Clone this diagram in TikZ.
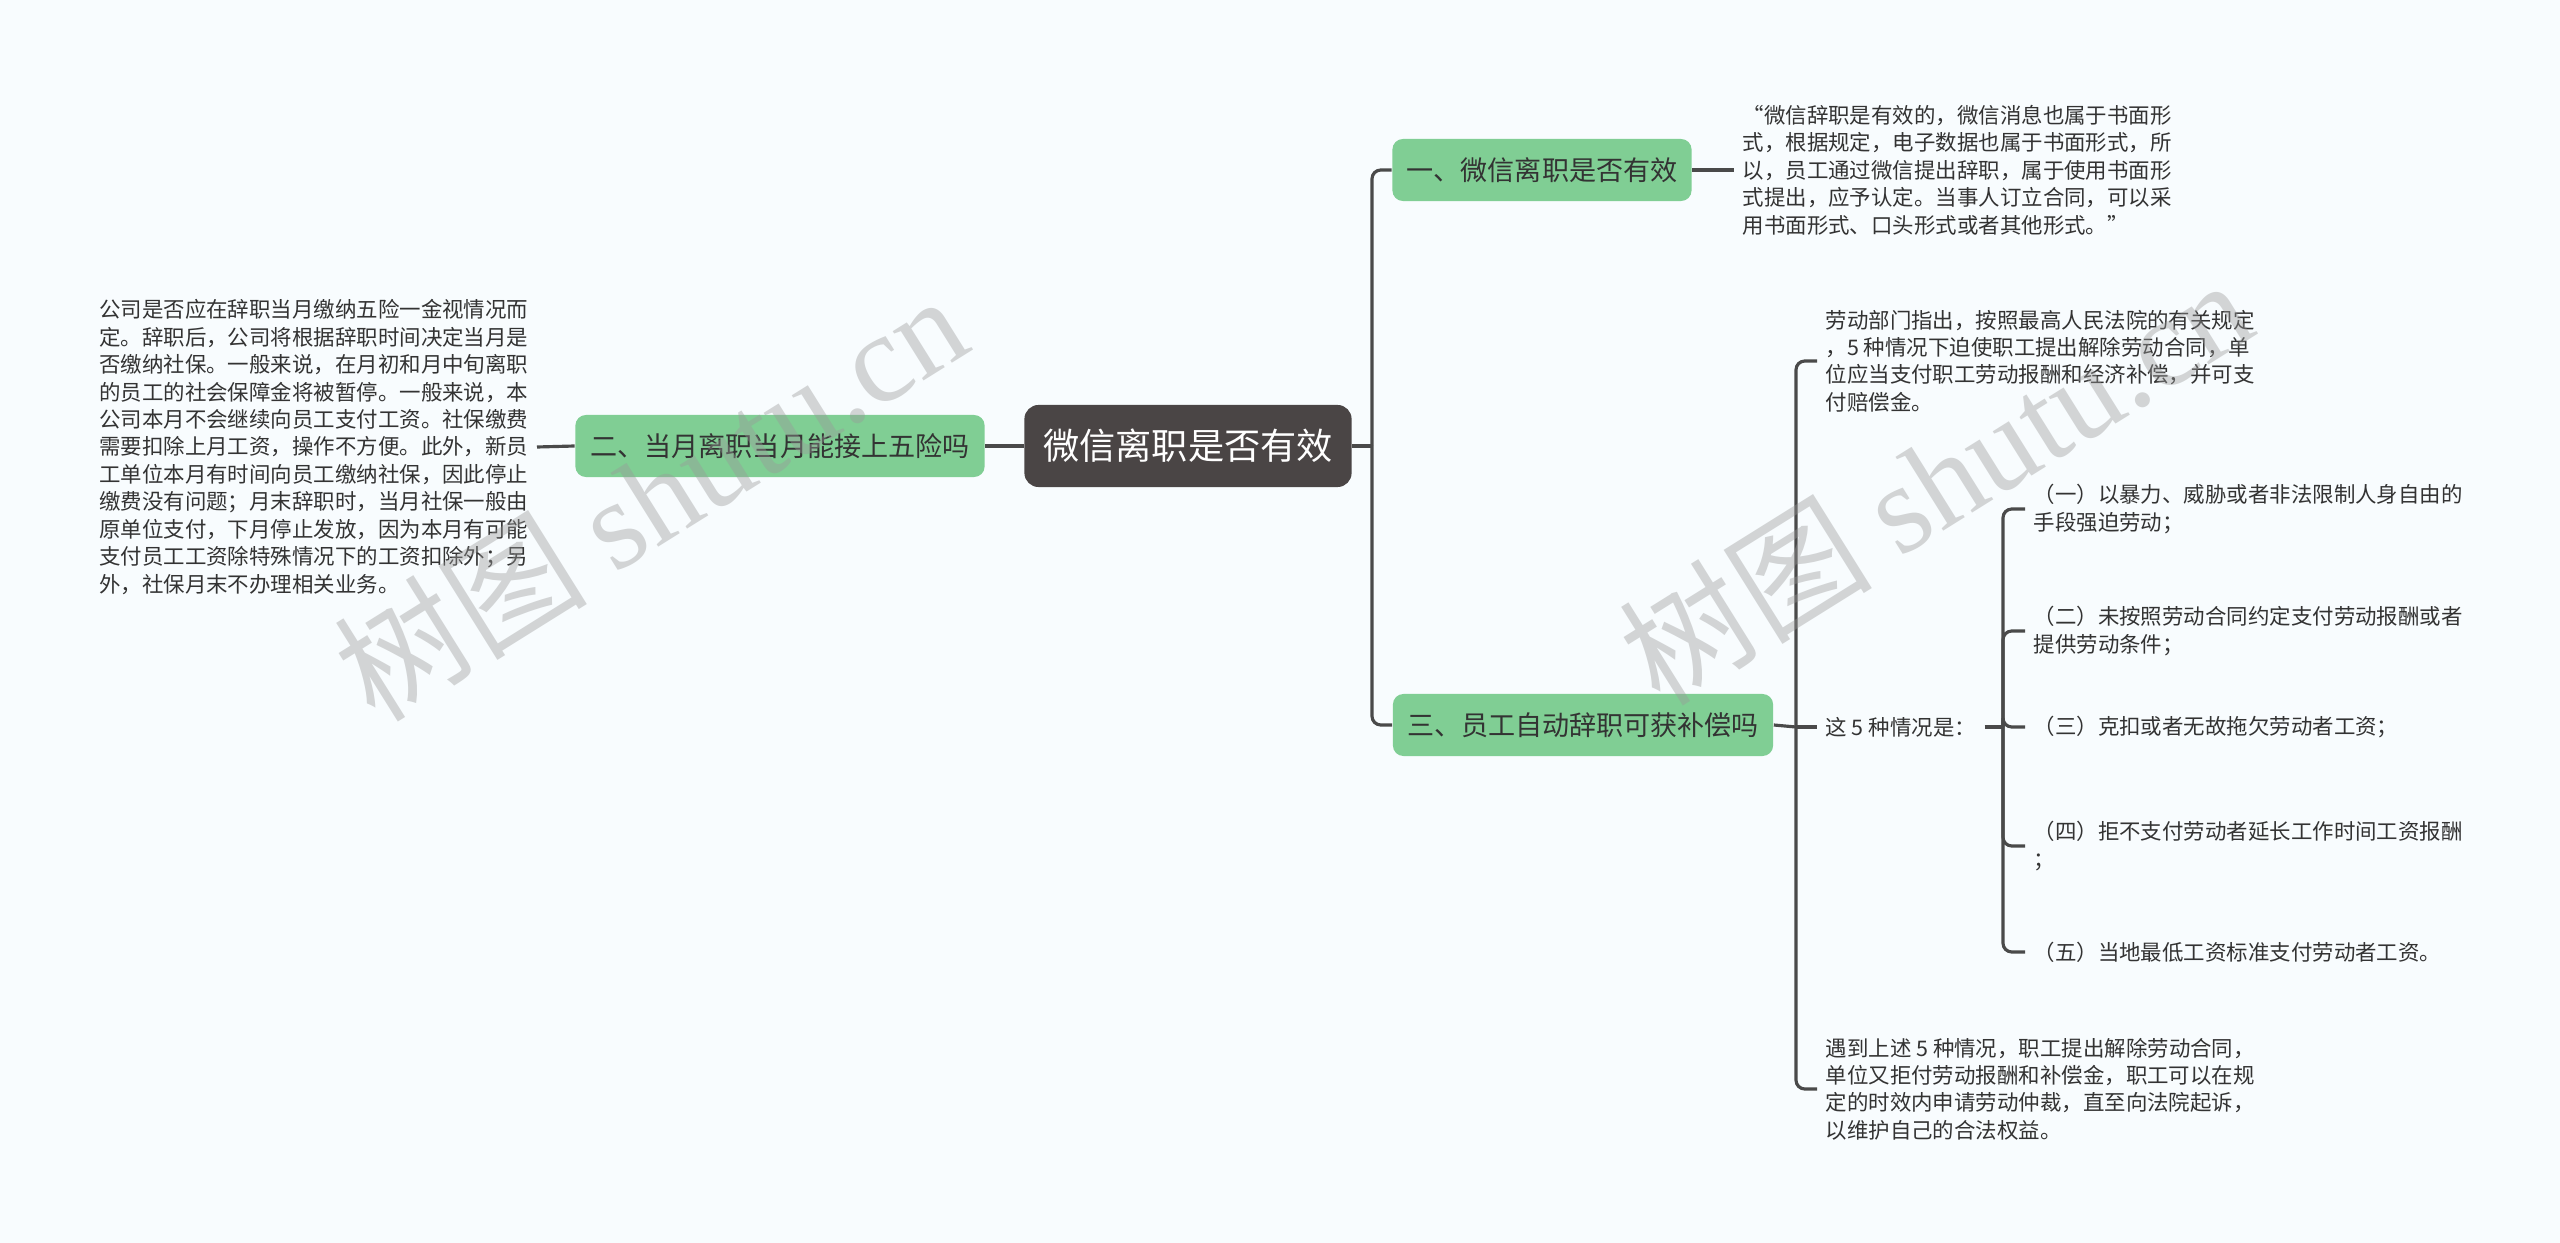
\documentclass[tikz,border=0pt]{standalone}
\usepackage{fontspec}
\setmainfont{Noto Sans CJK SC}
\newfontfamily\markserif{Liberation Serif}
\usetikzlibrary{positioning}
\definecolor{MapBack}{HTML}{F8FCFE}
\definecolor{MapDark}{HTML}{4A4545}
\definecolor{MapGreen}{HTML}{80CE94}
\definecolor{MapLine}{HTML}{4A4A4A}
\definecolor{MapText}{HTML}{333333}

\tikzset{
  topic/.style={fill=MapDark, rounded corners=4pt, minimum width=3.27cm, minimum height=0.82cm,
    inner xsep=0pt, text=white, font=\fontsize{10.3pt}{12pt}\selectfont},
  branch/.style={fill=MapGreen, rounded corners=3pt, minimum height=0.62cm, inner xsep=0pt,
    text=MapText, font=\fontsize{7.7pt}{9pt}\selectfont},
  leaf/.style={anchor=west, inner xsep=0.08cm, inner ysep=0pt, align=left, text=MapText,
    font=\fontsize{6.1pt}{7.8pt}\selectfont},
  conn/.style={draw=MapLine, line width=0.9pt, rounded corners=2.5pt},
  wmark/.style={rotate=32, text=black!40, opacity=0.4, font=\fontsize{36pt}{40pt}\selectfont}
}

\begin{document}
\begin{tikzpicture}[x=0.01cm, y=-0.01cm]
  \fill[MapBack] (0,0) rectangle (2560,1243);

  \node[topic] (root) at (1188,446) {微信离职是否有效};

  % left side
  \node[branch, minimum width=4.09cm] (q2) at (780,446) {二、当月离职当月能接上五险吗};
  \node[leaf, anchor=east] (t2) at (537,447) {公司是否应在辞职当月缴纳五险一金视情况而\\
    定。辞职后，公司将根据辞职时间决定当月是\\
    否缴纳社保。一般来说，在月初和月中旬离职\\
    的员工的社会保障金将被暂停。一般来说，本\\
    公司本月不会继续向员工支付工资。社保缴费\\
    需要扣除上月工资，操作不方便。此外，新员\\
    工单位本月有时间向员工缴纳社保，因此停止\\
    缴费没有问题；月末辞职时，当月社保一般由\\
    原单位支付，下月停止发放，因为本月有可能\\
    支付员工工资除特殊情况下的工资扣除外；另\\
    外，社保月末不办理相关业务。};

  % right side
  \node[branch, minimum width=2.99cm] (q1) at (1542,170) {一、微信离职是否有效};
  \node[leaf] (t1) at (1734,170) {“微信辞职是有效的，微信消息也属于书面形\\
    式，根据规定，电子数据也属于书面形式，所\\
    以，员工通过微信提出辞职，属于使用书面形\\
    式提出，应予认定。当事人订立合同，可以采\\
    用书面形式、口头形式或者其他形式。”};

  \node[branch, minimum width=3.80cm] (q3) at (1583,725) {三、员工自动辞职可获补偿吗};
  \node[leaf] (t3a) at (1817,361) {劳动部门指出，按照最高人民法院的有关规定\\
    ，5 种情况下迫使职工提出解除劳动合同，单\\
    位应当支付职工劳动报酬和经济补偿，并可支\\
    付赔偿金。};
  \node[leaf] (cases) at (1817,727) {这 5 种情况是：};
  \node[leaf] (t3c) at (1817,1089) {遇到上述 5 种情况，职工提出解除劳动合同，\\
    单位又拒付劳动报酬和补偿金，职工可以在规\\
    定的时效内申请劳动仲裁，直至向法院起诉，\\
    以维护自己的合法权益。};

  \node[leaf] (c1) at (2025,509) {（一）以暴力、威胁或者非法限制人身自由的\\手段强迫劳动；};
  \node[leaf] (c2) at (2025,631) {（二）未按照劳动合同约定支付劳动报酬或者\\提供劳动条件；};
  \node[leaf] (c3) at (2025,727) {（三）克扣或者无故拖欠劳动者工资；};
  \node[leaf] (c4) at (2025,846) {（四）拒不支付劳动者延长工作时间工资报酬\\；};
  \node[leaf] (c5) at (2025,952) {（五）当地最低工资标准支付劳动者工资。};

  % connectors
  \coordinate (rj) at (1372,446);
  \coordinate (j3) at (1796,727);
  \coordinate (j4) at (2003,727);
  \draw[conn] (root.west) -- (q2.east);
  \draw[conn] (q2.west) -- (t2.east);
  \draw[conn] (root.east) -- (rj);
  \draw[conn] (rj) |- (q1.west);
  \draw[conn] (rj) |- (q3.west);
  \draw[conn] (q1.east) -- (t1.west);
  \draw[conn] (q3.east) -- (j3);
  \draw[conn] (j3) |- (t3a.west);
  \draw[conn] (j3) -- (cases.west);
  \draw[conn] (j3) |- (t3c.west);
  \draw[conn] (cases.east) -- (j4);
  \foreach \c in {c1,c2,c3,c4,c5}
    \draw[conn] (j4) |- (\c.west);

  % watermark
  \node[wmark] (wm1) at (650,496) {树图 {\markserif shutu.cn}};
  \node[wmark] (wm2) at (1935,480) {树图 {\markserif shutu.cn}};
\end{tikzpicture}
\end{document}
